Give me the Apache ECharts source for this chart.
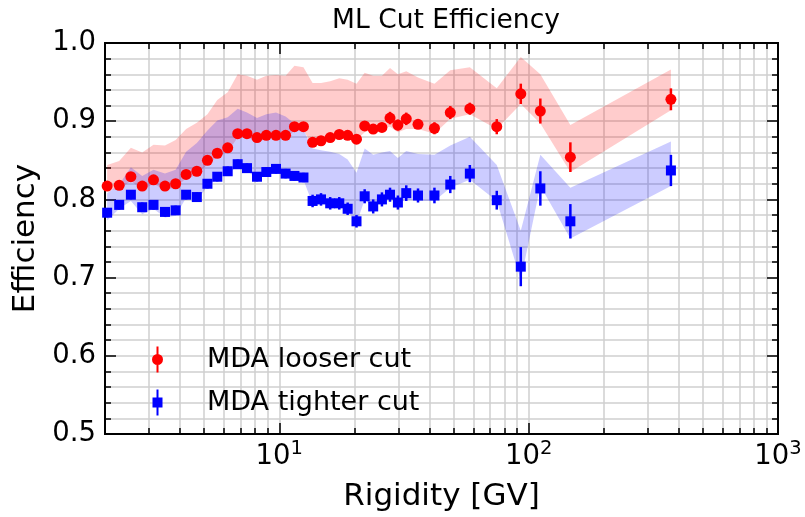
<!DOCTYPE html>
<html>
<head>
<meta charset="utf-8">
<script src="https://cdn.jsdelivr.net/npm/echarts@6/dist/echarts.min.js"></script>
<style>
  html, body { margin: 0; padding: 0; background: #fff; }
  #chart { width: 805px; height: 517px; }
</style>
</head>
<body>
<div id="chart"></div>
<script>
// rigidity bins [GV]
const rigidity = [2.04, 2.28, 2.54, 2.82, 3.13, 3.48, 3.84, 4.23, 4.67, 5.15,
  5.64, 6.21, 6.81, 7.42, 8.14, 8.87, 9.70, 10.6, 11.5, 12.5,
  13.6, 14.7, 16.0, 17.4, 18.8, 20.4, 22.0, 23.8, 25.8, 27.8,
  29.9, 32.3, 36.0, 41.9, 48.5, 58.1, 74.5, 93.0, 111.4, 147, 372];

// MDA looser cut
const looserEff = [0.817, 0.818, 0.829, 0.817, 0.825, 0.817, 0.820, 0.832, 0.836, 0.850,
  0.859, 0.866, 0.884, 0.884, 0.879, 0.882, 0.882, 0.882, 0.893, 0.893,
  0.873, 0.875, 0.879, 0.883, 0.882, 0.877, 0.894, 0.890, 0.892, 0.904,
  0.895, 0.903, 0.896, 0.891, 0.911, 0.916, 0.893, 0.935, 0.913, 0.854, 0.928];
const looserErr = [0.004, 0.004, 0.004, 0.004, 0.004, 0.004, 0.004, 0.004, 0.004, 0.004,
  0.004, 0.004, 0.004, 0.004, 0.004, 0.004, 0.004, 0.004, 0.004, 0.004,
  0.005, 0.005, 0.005, 0.005, 0.005, 0.005, 0.006, 0.006, 0.006, 0.008,
  0.007, 0.008, 0.006, 0.0077, 0.0084, 0.0077, 0.0097, 0.013, 0.016, 0.019, 0.014];
const looserBandHi = [0.844, 0.849, 0.866, 0.860, 0.870, 0.869, 0.876, 0.890, 0.898, 0.909,
  0.927, 0.937, 0.960, 0.958, 0.953, 0.958, 0.959, 0.958, 0.971, 0.969,
  0.949, 0.949, 0.951, 0.955, 0.953, 0.948, 0.962, 0.958, 0.958, 0.968,
  0.960, 0.964, 0.956, 0.948, 0.965, 0.969, 0.942, 0.982, 0.960, 0.895, 0.966];
const looserBandLo = [0.812, 0.813, 0.824, 0.812, 0.820, 0.812, 0.815, 0.827, 0.831, 0.845,
  0.854, 0.861, 0.879, 0.879, 0.874, 0.877, 0.877, 0.877, 0.888, 0.888,
  0.870, 0.872, 0.876, 0.880, 0.879, 0.876, 0.886, 0.890, 0.891, 0.893,
  0.886, 0.890, 0.890, 0.884, 0.903, 0.909, 0.890, 0.922, 0.897, 0.835, 0.914];

// MDA tighter cut
const tighterEff = [0.783, 0.793, 0.806, 0.790, 0.793, 0.784, 0.786, 0.806, 0.803, 0.820,
  0.829, 0.836, 0.845, 0.840, 0.829, 0.835, 0.839, 0.833, 0.830, 0.828,
  0.798, 0.800, 0.795, 0.795, 0.788, 0.772, 0.804, 0.791, 0.800, 0.806,
  0.796, 0.808, 0.805, 0.805, 0.819, 0.833, 0.799, 0.714, 0.814, 0.772, 0.837];
const tighterErr = [0.006, 0.006, 0.006, 0.006, 0.006, 0.006, 0.006, 0.006, 0.006, 0.006,
  0.006, 0.006, 0.006, 0.006, 0.006, 0.006, 0.006, 0.006, 0.006, 0.006,
  0.008, 0.008, 0.008, 0.008, 0.008, 0.008, 0.009, 0.009, 0.009, 0.009,
  0.009, 0.010, 0.009, 0.010, 0.011, 0.011, 0.012, 0.025, 0.022, 0.022, 0.020];
const tighterBandHi = [0.808, 0.819, 0.841, 0.830, 0.838, 0.833, 0.838, 0.861, 0.872, 0.888,
  0.901, 0.905, 0.916, 0.911, 0.904, 0.909, 0.911, 0.906, 0.897, 0.889,
  0.865, 0.863, 0.861, 0.858, 0.851, 0.834, 0.865, 0.857, 0.860, 0.862,
  0.853, 0.862, 0.858, 0.857, 0.869, 0.880, 0.844, 0.760, 0.857, 0.815, 0.874];
const tighterBandLo = [0.773, 0.788, 0.798, 0.781, 0.788, 0.777, 0.779, 0.802, 0.798, 0.817,
  0.826, 0.833, 0.842, 0.837, 0.826, 0.832, 0.836, 0.829, 0.827, 0.825,
  0.794, 0.796, 0.794, 0.792, 0.786, 0.769, 0.800, 0.790, 0.798, 0.802,
  0.794, 0.800, 0.798, 0.798, 0.815, 0.825, 0.798, 0.697, 0.817, 0.750, 0.817];

// axis ticks
const xMinorTicks = [2, 3, 4, 5, 6, 7, 8, 9, 20, 30, 40, 50, 60, 70, 80, 90,
  200, 300, 400, 500, 600, 700, 800, 900];
const xMajorTicks = [10, 100, 1000];

const FONT = 'DejaVu Sans';
const RED = '#ff0000';
const BLUE = '#0000ff';

function pairs(ys) {
  return rigidity.map((x, i) => [x, ys[i]]);
}

// shaded band: one polygon through all bins, upper edge then lower edge back
function bandSeries(name, lo, hi, color) {
  return {
    name: name + ' band', type: 'custom', silent: true, z: 1,
    data: rigidity.map((x, i) => [x, lo[i], hi[i]]),
    encode: { x: 0, y: [1, 2] },
    renderItem: function (params, api) {
      if (params.dataIndex !== 0) return { type: 'group', children: [] };
      const n = rigidity.length;
      const pts = [];
      for (let i = 0; i < n; i++) pts.push(api.coord([api.value(0, i), api.value(2, i)]));
      for (let i = n - 1; i >= 0; i--) pts.push(api.coord([api.value(0, i), api.value(1, i)]));
      return { type: 'polygon', shape: { points: pts }, style: { fill: color, stroke: null } };
    }
  };
}

function errSeries(name, ys, errs, color) {
  return {
    name: name + ' err', type: 'custom', z: 3, silent: true,
    data: rigidity.map((x, i) => [x, ys[i] - errs[i], ys[i] + errs[i]]),
    encode: { x: 0, y: [1, 2] },
    renderItem: function (params, api) {
      const p1 = api.coord([api.value(0), api.value(1)]);
      const p2 = api.coord([api.value(0), api.value(2)]);
      return {
        type: 'line',
        shape: { x1: p1[0], y1: p1[1], x2: p2[0], y2: p2[1] },
        style: { stroke: color, lineWidth: 2.5 }
      };
    }
  };
}

const gridLine = { color: '#cfcfcf', width: 1.5 };
const frame = { color: '#000', width: 2 };
const tickLine = { color: '#000', width: 1.5 };

function xAxisCfg(position, ticks, len, labels, split) {
  return {
    type: 'log', logBase: 10, min: 2, max: 1000, position: position,
    axisLine: { show: len > 0, onZero: false, lineStyle: frame },
    axisTick: { show: len > 0, inside: true, length: len, customValues: ticks, lineStyle: tickLine },
    axisLabel: labels ? {
      show: true, customValues: ticks, margin: 5, color: '#000', fontFamily: FONT,
      formatter: v => '{b|10}{s|' + Math.round(Math.log10(v)) + '}',
      rich: {
        b: { fontSize: 27.5, lineHeight: 32, verticalAlign: 'bottom', fontFamily: FONT, color: '#000' },
        s: { fontSize: 19.5, lineHeight: 20, verticalAlign: 'top', fontFamily: FONT, color: '#000' }
      }
    } : { show: false },
    splitLine: { show: split, lineStyle: gridLine },
    minorTick: { show: false },
    name: labels ? 'Rigidity [GV]' : '',
    nameLocation: 'middle', nameGap: 47,
    nameTextStyle: { fontSize: 31, fontFamily: FONT, color: '#000' }
  };
}

function yAxisCfg(position, main) {
  return {
    type: 'value', min: 0.5, max: 1.0, interval: 0.1, position: position,
    axisLine: { show: true, onZero: false, lineStyle: frame },
    axisTick: { show: true, inside: true, length: 11, lineStyle: tickLine },
    minorTick: { show: true, splitNumber: 5, length: 6, lineStyle: tickLine },
    axisLabel: main ? {
      show: true, fontSize: 27.5, fontFamily: FONT, color: '#000', margin: 9,
      formatter: v => v.toFixed(1)
    } : { show: false },
    splitLine: { show: main, lineStyle: gridLine },
    minorSplitLine: { show: main, lineStyle: gridLine },
    name: main ? 'Efficiency' : '',
    nameLocation: 'middle', nameGap: 62,
    nameTextStyle: { fontSize: 31, fontFamily: FONT, color: '#000' }
  };
}

const chart = echarts.init(document.getElementById('chart'), null, { renderer: 'canvas' });
chart.setOption({
  animation: false,
  backgroundColor: '#fff',
  title: {
    text: 'ML Cut Efficiency', left: 441, top: 3, textAlign: 'center',
    textStyle: { fontSize: 26.5, fontWeight: 'normal', fontFamily: FONT, color: '#000' }
  },
  grid: { left: 105, right: 27, top: 43, bottom: 77 },
  legend: {
    orient: 'vertical', left: 152, top: 346, padding: 0,
    itemWidth: 11, itemHeight: 26, itemGap: 16, selectedMode: false,
    textStyle: { fontSize: 27, fontFamily: FONT, color: '#000', padding: [0, 0, 0, 39] },
    data: [
      { name: 'MDA looser cut', icon: 'path://M4.5,0h2v26h-2zM0,13a5.5,5.5 0 1,1 11,0a5.5,5.5 0 1,1 -11,0z', itemStyle: { color: RED, opacity: 1 } },
      { name: 'MDA tighter cut', icon: 'path://M4.5,0h2v26h-2zM0.5,8h10v10h-10z', itemStyle: { color: BLUE, opacity: 1 } }
    ]
  },
  xAxis: [
    xAxisCfg('bottom', xMinorTicks.concat(xMajorTicks), 0, false, true),
    xAxisCfg('bottom', xMinorTicks, 6, false, false),
    xAxisCfg('bottom', xMajorTicks, 11, true, false),
    xAxisCfg('top', xMinorTicks, 6, false, false),
    xAxisCfg('top', xMajorTicks, 11, false, false)
  ],
  yAxis: [yAxisCfg('left', true), yAxisCfg('right', false)],
  series: [
    bandSeries('looser', looserBandLo, looserBandHi, 'rgba(255,0,0,0.2)'),
    bandSeries('tighter', tighterBandLo, tighterBandHi, 'rgba(0,0,255,0.2)'),
    errSeries('looser', looserEff, looserErr, RED),
    errSeries('tighter', tighterEff, tighterErr, BLUE),
    {
      name: 'MDA looser cut', type: 'scatter', data: pairs(looserEff),
      symbol: 'circle', symbolSize: 11, itemStyle: { color: RED, opacity: 1 }, z: 4
    },
    {
      name: 'MDA tighter cut', type: 'scatter', data: pairs(tighterEff),
      symbol: 'rect', symbolSize: 10, itemStyle: { color: BLUE, opacity: 1 }, z: 4
    }
  ]
});
</script>
</body>
</html>
